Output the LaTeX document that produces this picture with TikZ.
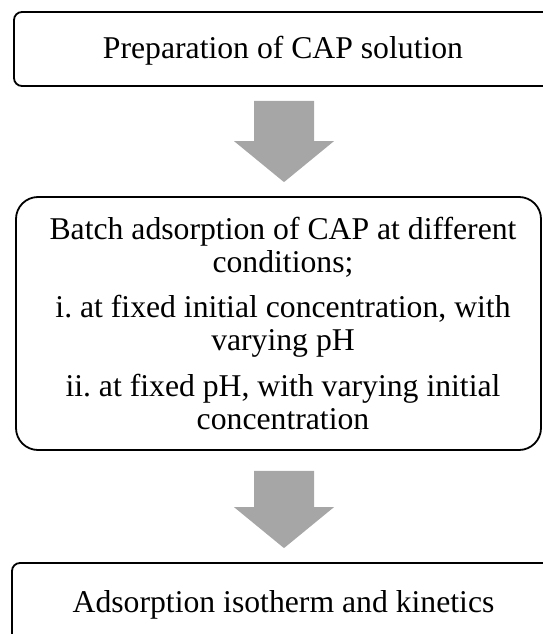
\documentclass[tikz,border=0pt]{standalone}
\usepackage{fontspec}
\setmainfont{Liberation Serif}
\usetikzlibrary{calc}
\frenchspacing
\definecolor{arrowgray}{HTML}{A6A6A6}
\tikzstyle{box}=[rectangle,draw=black,line width=1.8pt,fill=white,inner sep=0pt]
\tikzstyle{txt}=[font=\fontsize{31.7}{33}\selectfont,align=center,inner sep=0pt]
\tikzstyle{bigarr}=[fill=arrowgray,draw=none]
% block arrow: #1 = tail coordinate, #2 = tip coordinate
\newcommand{\blockarrow}[2]{%
  \fill[bigarr] (#2) -- ($(#2)+(-50,-41)$) -- ($(#2)+(-30,-41)$) -- ($(#1)+(-30,0)$)
    -- ($(#1)+(30,0)$) -- ($(#2)+(30,-41)$) -- ($(#2)+(50,-41)$) -- cycle;}

\begin{document}
\begin{tikzpicture}[x=1pt,y=-1pt]
        \useasboundingbox (0,0) rectangle (543,634);
        \clip (0,0) rectangle (543,634);
        \node[box,rounded corners=8pt,minimum width=538pt,minimum height=74pt] (prep) at (283,49) {};
        \node[txt,anchor=base] (preptext) at (283,59) {Preparation of CAP solution};
        \node[box,rounded corners=22pt,minimum width=525pt,minimum height=253pt] (batch) at (278.5,323.5) {};
        \node[txt] (batchtext) at (283,323.3) {Batch adsorption of CAP at different\\conditions;\\[12.5pt]
          i. at fixed initial concentration, with\\varying pH\\[12.5pt]
          ii. at fixed pH, with varying initial\\concentration};
        \node[box,rounded corners=8pt,minimum width=543pt,minimum height=90pt] (iso) at (283.5,608) {};
        \node[txt,anchor=base] (isotext) at (283.5,612) {Adsorption isotherm and kinetics};
        \coordinate (tailA) at ($(prep.south)+(1,14)$);
        \coordinate (tipA) at ($(batch.north)+(5.5,-14)$);
        \coordinate (tailB) at ($(batch.south)+(5.5,20)$);
        \coordinate (tipB) at ($(iso.north)+(0.5,-14)$);
        \blockarrow{tailA}{tipA}
        \blockarrow{tailB}{tipB}
      \end{tikzpicture}
\end{document}
